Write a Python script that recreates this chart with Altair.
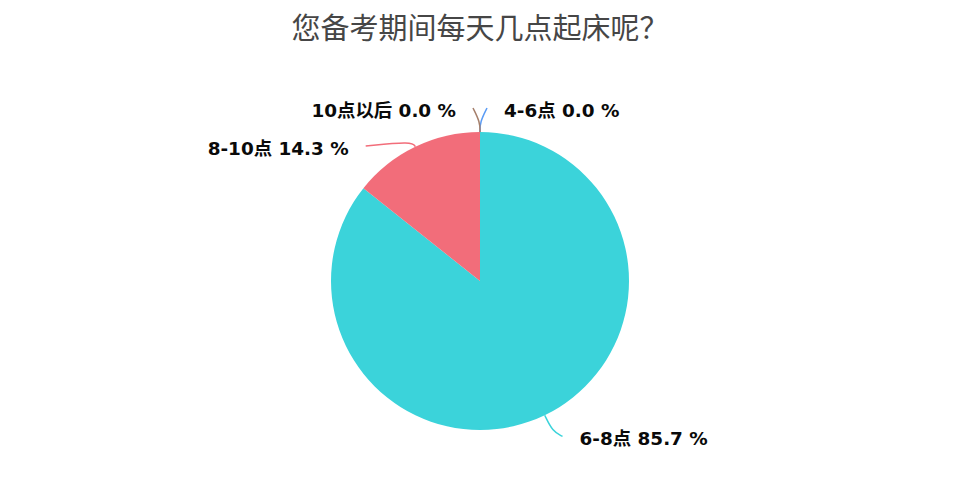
import altair as alt
import pandas as pd
import numpy as np

TITLE = "您备考期间每天几点起床呢？"
categories = ["4-6点", "6-8点", "8-10点", "10点以后"]
percents = [0.0, 85.7, 14.3, 0.0]
colors = ["#5B9CF5", "#3BD3DA", "#F26D7A", "#A57F6B"]

# leader-line layout (style): radial extension, horizontal run, vertical run
layout = {
    "4-6点": (10, 7, 14),
    "6-8点": (18, 10, -5),
    "8-10点": (6, 47, -4.5),
    "10点以后": (10, 7, 14),
}
R = 149
W, H = 944, 380

df = pd.DataFrame({"cat": categories, "pct": percents, "idx": range(len(categories))})
df["label"] = [f"{c} {p:.1f} %" for c, p in zip(categories, percents)]

total = sum(percents)
cum = np.cumsum([0] + percents)
rows_line, rows_text = [], []
for i, c in enumerate(categories):
    mid = (cum[i] + cum[i + 1]) / 2 / total * 2 * np.pi
    s, co = np.sin(mid), np.cos(mid)
    side = -1 if s < 0 else 1
    l1, l2, l3 = layout[c]
    p0 = (R * s, R * co)
    p1 = ((R + l1) * s, (R + l1) * co)
    p2 = (p1[0] + side * l2, p1[1] + l3)
    for k, p in enumerate([p0, p1, p2]):
        rows_line.append({"cat": c, "k": k, "x": p[0], "y": p[1], "idx": i})
    rows_text.append({"cat": c, "label": df.loc[i, "label"], "x": p2[0], "y": p2[1], "side": side})
lines = pd.DataFrame(rows_line)
texts = pd.DataFrame(rows_text)

color_scale = alt.Scale(domain=categories, range=colors)
xs = alt.Scale(domain=[-W / 2, W / 2], nice=False, zero=False)
ys = alt.Scale(domain=[-H / 2, H / 2], nice=False, zero=False)

pie = alt.Chart(df).mark_arc(radius=R).encode(
    theta=alt.Theta("pct:Q", stack=True),
    order=alt.Order("idx:Q"),
    color=alt.Color("cat:N", scale=color_scale, legend=None),
)


def leader_layer(idx_filter):
    return alt.Chart(lines).transform_filter(idx_filter).mark_line(
        interpolate="basis", strokeWidth=1.5
    ).encode(
        x=alt.X("x:Q", scale=xs, axis=None),
        y=alt.Y("y:Q", scale=ys, axis=None),
        detail="cat:N",
        order=alt.Order("k:Q"),
        color=alt.Color("cat:N", scale=color_scale, legend=None),
    )


leader_a = leader_layer("datum.idx < 3")
leader_b = leader_layer("datum.idx >= 3")

font = "DejaVu Sans, Noto Sans CJK SC, sans-serif"
txt_right = alt.Chart(texts).transform_filter("datum.side > 0").mark_text(
    align="left", baseline="middle", dx=17, dy=3, fontSize=18.4, fontWeight="bold", font=font, color="#0a0a0a"
).encode(x=alt.X("x:Q", scale=xs, axis=None), y=alt.Y("y:Q", scale=ys, axis=None), text="label:N")
txt_left = alt.Chart(texts).transform_filter("datum.side < 0").mark_text(
    align="right", baseline="middle", dx=-17, dy=3, fontSize=18.4, fontWeight="bold", font=font, color="#0a0a0a"
).encode(x=alt.X("x:Q", scale=xs, axis=None), y=alt.Y("y:Q", scale=ys, axis=None), text="label:N")

chart = alt.layer(pie, leader_a, leader_b, txt_right, txt_left).properties(
    width=W,
    height=H,
    title=alt.TitleParams(
        TITLE, fontSize=29, font="Noto Sans CJK SC", fontWeight="normal",
        color="#464646", anchor="middle", baseline="bottom", offset=17,
    ),
    autosize=alt.AutoSizeParams(type="none"),
    padding={"left": 0, "top": 83, "right": 0, "bottom": 0},
).configure_view(stroke=None)

chart.save("out.html", embed_options={"renderer": "svg", "actions": False})
